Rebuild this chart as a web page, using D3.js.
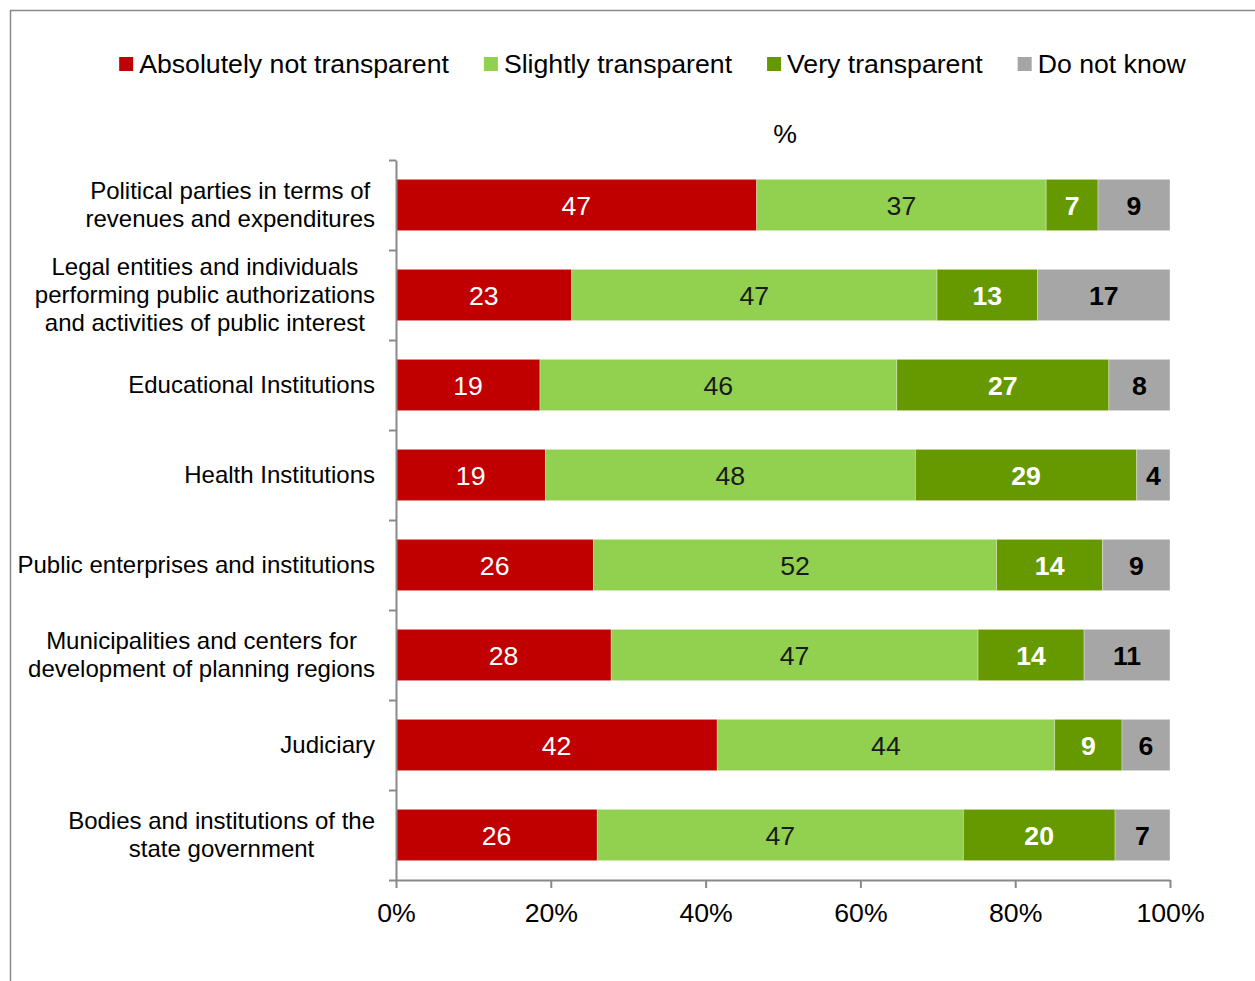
<!DOCTYPE html>
<html>
<head>
<meta charset="utf-8">
<script src="https://cdn.jsdelivr.net/npm/d3@7"></script>
<style>
  body { margin: 0; background: #fff; }
  svg { font-family: "Liberation Sans", Arial, sans-serif; }
</style>
</head>
<body>
<svg id="chart" width="1255" height="981"></svg>
<script>
// categories, top to bottom
const categories = [
    ['Political parties in terms of', 'revenues and expenditures'],
    ['Legal entities and individuals', 'performing public authorizations', 'and activities of public interest'],
    ['Educational Institutions'],
    ['Health Institutions'],
    ['Public enterprises and institutions'],
    ['Municipalities and centers for', 'development of planning regions'],
    ['Judiciary'],
    ['Bodies and institutions of the', 'state government']
]
const seriesNames = ['Absolutely not transparent', 'Slightly transparent', 'Very transparent', 'Do not know']
const seriesColors = ['#C00000', '#92D050', '#669900', '#A6A6A6']

// shares in % (labels show the rounded values)
const notTransparent = [46.6, 22.7, 18.6, 19.3, 25.5, 27.8, 41.5, 26.0]
const slightlyTransparent = [37.4, 47.2, 46.1, 47.8, 52.1, 47.4, 43.6, 47.3]
const veryTransparent = [6.7, 13.0, 27.4, 28.6, 13.7, 13.7, 8.7, 19.6]
const doNotKnow = [9.3, 17.1, 7.9, 4.3, 8.7, 11.1, 6.2, 7.1]

const xTicks = [0, 0.2, 0.4, 0.6, 0.8, 1]
const axisTitle = '%'

const seriesValues = [notTransparent, slightlyTransparent, veryTransparent, doNotKnow]
const labelStyle = [
    { fill: '#ffffff', weight: 'normal' },
    { fill: '#1a1a1a', weight: 'normal' },
    { fill: '#ffffff', weight: 'bold' },
    { fill: '#000000', weight: 'bold' }
]

const BIG = 26.67   // 20pt
const CAT = 24      // 18pt

const svg = d3.select('#chart')
const DIM = { left: 396, right: 1170, top: 160, bottom: 880 }

// outer chart frame
svg.append('rect')
    .attr('x', 10.5).attr('y', 10.5)
    .attr('width', 1300).attr('height', 1100)
    .attr('fill', 'none').attr('stroke', '#898989').attr('stroke-width', 1.5)

const rows = categories.map((c, i) => {
    let row = { id: i }
    seriesNames.forEach((s, k) => row[s] = seriesValues[k][i])
    return row
})

const stack = d3.stack().keys(seriesNames).offset(d3.stackOffsetExpand)
const stacked = stack(rows)

const x = d3.scaleLinear().domain([0, 1]).range([DIM.left, DIM.right])
const y = d3.scaleBand()
    .domain(d3.range(categories.length))
    .range([DIM.top, DIM.bottom])
    .paddingInner(0.43)
    .paddingOuter(0.215)
const yBounds = d3.scaleLinear().domain([0, categories.length]).range([DIM.top, DIM.bottom])

// bars
const layers = svg.append('g').selectAll('g')
    .data(stacked)
    .join('g')
    .attr('fill', (d, k) => seriesColors[k])

layers.selectAll('rect')
    .data(d => d)
    .join('rect')
    .attr('x', d => x(d[0]))
    .attr('y', (d, i) => y(i))
    .attr('width', d => x(d[1]) - x(d[0]))
    .attr('height', y.bandwidth())
    .attr('stroke', '#ffffff')
    .attr('stroke-opacity', 0.4)
    .attr('stroke-width', 0.8)

// data labels
layers.each(function (layer, k) {
    d3.select(this).selectAll('text')
        .data(layer)
        .join('text')
        .attr('x', d => (x(d[0]) + x(d[1])) / 2)
        .attr('y', (d, i) => y(i) + y.bandwidth() / 2)
        .attr('dy', '0.36em')
        .attr('text-anchor', 'middle')
        .attr('font-size', BIG)
        .attr('font-weight', labelStyle[k].weight)
        .attr('fill', labelStyle[k].fill)
        .text((d, i) => Math.round(seriesValues[k][i]))
})

// axes
const xAxis = d3.axisBottom(x)
    .tickValues(xTicks)
    .tickFormat(d3.format('.0%'))
    .tickSize(8)
    .tickSizeOuter(0)
const xAxisG = svg.append('g')
    .attr('transform', `translate(0, ${DIM.bottom})`)
    .call(xAxis)
xAxisG.select('.domain').attr('stroke', '#898989').attr('stroke-width', 2)
xAxisG.selectAll('line').attr('stroke', '#898989').attr('stroke-width', 2)
xAxisG.selectAll('text')
    .attr('font-size', BIG)
    .attr('font-family', '"Liberation Sans", Arial, sans-serif')
    .attr('fill', '#000')
    .attr('y', 32)
    .attr('dy', '0.36em')

const yAxis = d3.axisLeft(yBounds)
    .tickValues(d3.range(categories.length + 1))
    .tickFormat('')
    .tickSize(7)
    .tickSizeOuter(0)
const yAxisG = svg.append('g')
    .attr('transform', `translate(${DIM.left}, 0)`)
    .call(yAxis)
yAxisG.select('.domain').attr('stroke', '#898989').attr('stroke-width', 2)
yAxisG.selectAll('line').attr('stroke', '#898989').attr('stroke-width', 2)

// category labels: block right aligned, lines centered within block
const lineHeight = 28
const catG = svg.append('g')
categories.forEach((lines, i) => {
    const block = catG.append('g')
    const texts = block.selectAll('text')
        .data(lines)
        .join('text')
        .attr('font-size', CAT)
        .attr('fill', '#000')
        .attr('text-anchor', 'middle')
        .attr('dy', '0.32em')
        .attr('y', (d, j) => y(i) + y.bandwidth() / 2 + (j - (lines.length - 1) / 2) * lineHeight)
        .text(d => d)
    let maxW = 0
    texts.each(function () { maxW = Math.max(maxW, this.getComputedTextLength()) })
    texts.attr('x', 375 - maxW / 2)
})

// axis title
svg.append('text')
    .attr('x', (DIM.left + DIM.right) / 2 + 2)
    .attr('y', 134)
    .attr('dy', '0.34em')
    .attr('text-anchor', 'middle')
    .attr('font-size', BIG)
    .text(axisTitle)

// legend
const legend = svg.append('g')
const items = legend.selectAll('g')
    .data(seriesNames)
    .join('g')
items.append('rect')
    .attr('width', 14).attr('height', 14)
    .attr('y', 57)
    .attr('fill', (d, k) => seriesColors[k])
items.append('text')
    .attr('x', 20)
    .attr('y', 64)
    .attr('dy', '0.32em')
    .attr('font-size', BIG)
    .text(d => d)

const legendGap = 35
let offsets = []
let cursor = 0
items.each(function () {
    offsets.push(cursor)
    cursor += 20 + d3.select(this).select('text').node().getComputedTextLength() + legendGap
})
const legendWidth = cursor - legendGap
const legendStart = 652.5 - legendWidth / 2
items.attr('transform', (d, k) => `translate(${legendStart + offsets[k]}, 0)`)
</script>
</body>
</html>
